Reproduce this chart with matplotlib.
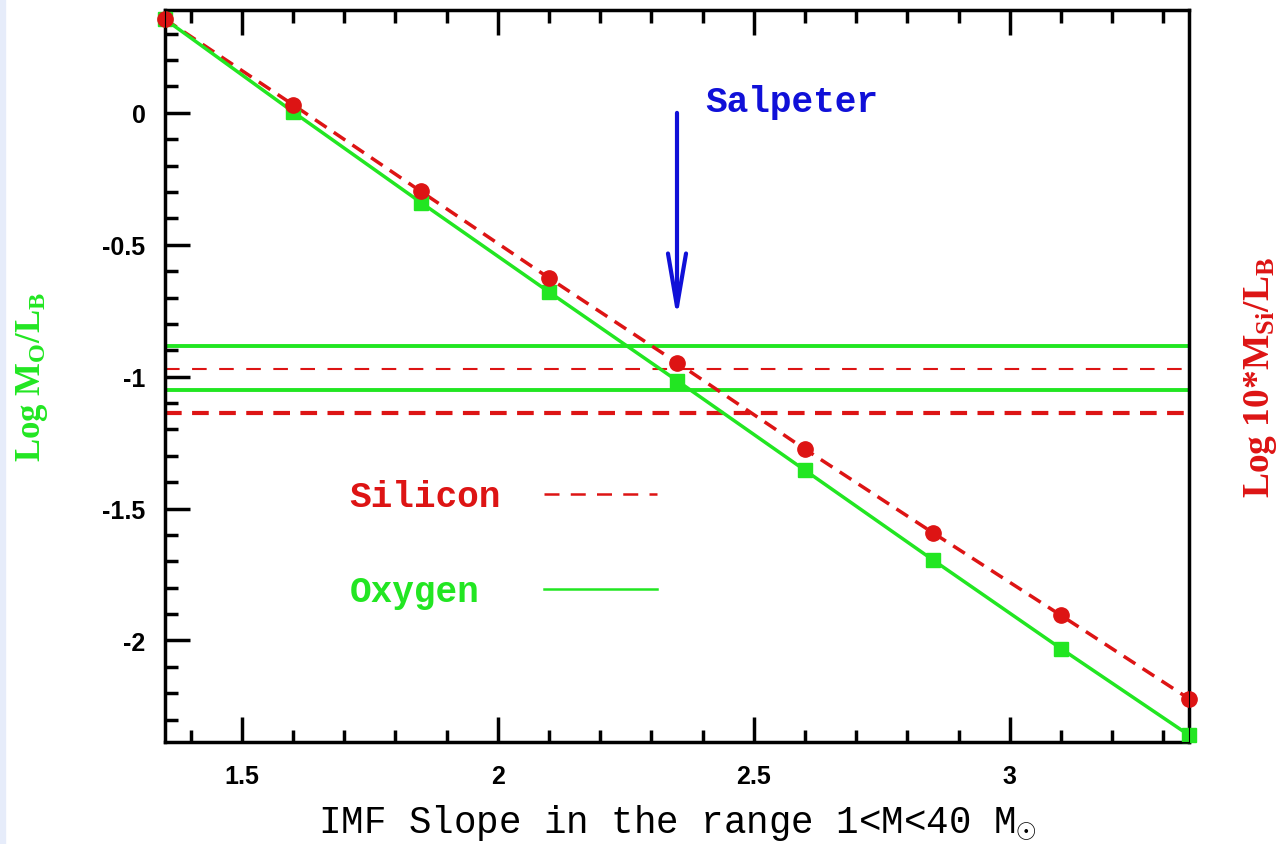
import matplotlib.pyplot as plt
from matplotlib.patches import Rectangle
from matplotlib.ticker import MultipleLocator

plt.rcParams['mathtext.fontset'] = 'custom'
plt.rcParams['mathtext.rm'] = 'Liberation Serif'
plt.rcParams['mathtext.it'] = 'Liberation Serif'
plt.rcParams['mathtext.bf'] = 'Liberation Serif:bold'

# IMF slope grid and log mass-to-light ratios
imf_slope = [1.35, 1.6, 1.85, 2.1, 2.35, 2.6, 2.85, 3.1, 3.35]
log_si = [0.355, 0.031, -0.298, -0.626, -0.947, -1.275, -1.592, -1.905, -2.221]
log_o = [0.355, 0.004, -0.340, -0.679, -1.015, -1.355, -1.695, -2.031, -2.359]

# observed ranges
o_obs = [-0.885, -1.050]
si_obs = [-0.970, -1.137]

salpeter = 2.35

RED = '#dd1414'
GREEN = '#22e622'
BLUE = '#1010d8'

fig = plt.figure(figsize=(12.79, 8.45), dpi=100)
fig.patches.append(Rectangle((0, 0), 5 / 1279, 1, transform=fig.transFigure,
                             color='#e6ecfa', zorder=-1))
ax = fig.add_axes([165 / 1279, 1 - 743 / 845, (1189 - 165) / 1279, (743 - 11) / 845])

ax.plot(imf_slope, log_si, color=RED, lw=2.5, ls=(0, (4, 2.5)), zorder=3)
ax.plot(imf_slope, log_o, color=GREEN, lw=2.5, zorder=3)
ax.plot(imf_slope, log_o, 's', color=GREEN, ms=10, zorder=4, clip_on=False)
ax.plot(imf_slope, log_si, 'o', color=RED, ms=11, zorder=5, clip_on=False)

for y in o_obs:
    ax.axhline(y, color=GREEN, lw=2.8)
ax.axhline(si_obs[0], color=RED, lw=1.5, ls=(0, (7, 6)))
ax.axhline(si_obs[1], color=RED, lw=3, ls=(0, (4, 2.5)))

# Salpeter marker: open V head
ax.annotate('', xy=(salpeter, -0.78), xytext=(salpeter, 0.0),
            arrowprops=dict(arrowstyle='->,head_length=3.8,head_width=0.65',
                            color=BLUE, lw=3, shrinkA=0, shrinkB=0))
ax.text(2.405, 0.045, 'Salpeter', color=BLUE, fontsize=26, fontweight='bold',
        family='Liberation Mono', va='center', ha='left')

# key
ax.text(1.71, -1.455, 'Silicon', color=RED, fontsize=26, fontweight='bold',
        family='Liberation Mono', va='center')
ax.plot([2.09, 2.31], [-1.443, -1.443], color=RED, lw=1.8, ls=(0, (6, 4.5)))
ax.text(1.71, -1.815, 'Oxygen', color=GREEN, fontsize=26, fontweight='bold',
        family='Liberation Mono', va='center')
ax.plot([2.09, 2.31], [-1.805, -1.805], color=GREEN, lw=1.8)

ax.set_xlim(1.35, 3.35)
ax.set_ylim(-2.385, 0.39)
ax.xaxis.set_major_locator(MultipleLocator(0.5))
ax.xaxis.set_minor_locator(MultipleLocator(0.1))
ax.yaxis.set_major_locator(MultipleLocator(0.5))
ax.yaxis.set_minor_locator(MultipleLocator(0.1))
ax.tick_params(which='both', direction='in', top=True, right=True, width=2.5)
ax.tick_params(which='major', length=18, labelsize=18)
ax.tick_params(which='minor', length=9)
ax.tick_params(axis='x', which='major', pad=16)
ax.tick_params(axis='y', which='major', pad=14)
ax.xaxis.set_major_formatter(plt.FuncFormatter(lambda v, p: f'{v:g}'))
ax.yaxis.set_major_formatter(plt.FuncFormatter(lambda v, p: f'{v:g}'))
for lab in ax.get_xticklabels() + ax.get_yticklabels():
    lab.set_fontweight('bold')
    lab.set_family('Liberation Sans')
for s in ax.spines.values():
    s.set_linewidth(2.5)

ax.set_xlabel(r'IMF Slope in the range 1<M<40 M$_{\odot}$', fontsize=27,
              family='Liberation Mono', labelpad=10)
ax.set_ylabel(r'Log M$_{\mathbf{O}}$/L$_{\mathbf{B}}$', fontsize=25, color=GREEN,
              fontweight='bold', family='Liberation Serif', labelpad=38)
ax2 = ax.twinx()
ax2.set_yticks([])
ax2.set_ylabel(r'Log 10*M$_{\mathbf{Si}}$/L$_{\mathbf{B}}$', fontsize=27, color=RED,
               fontweight='bold', family='Liberation Serif', labelpad=38)

fig.savefig('out.png', dpi=100)
